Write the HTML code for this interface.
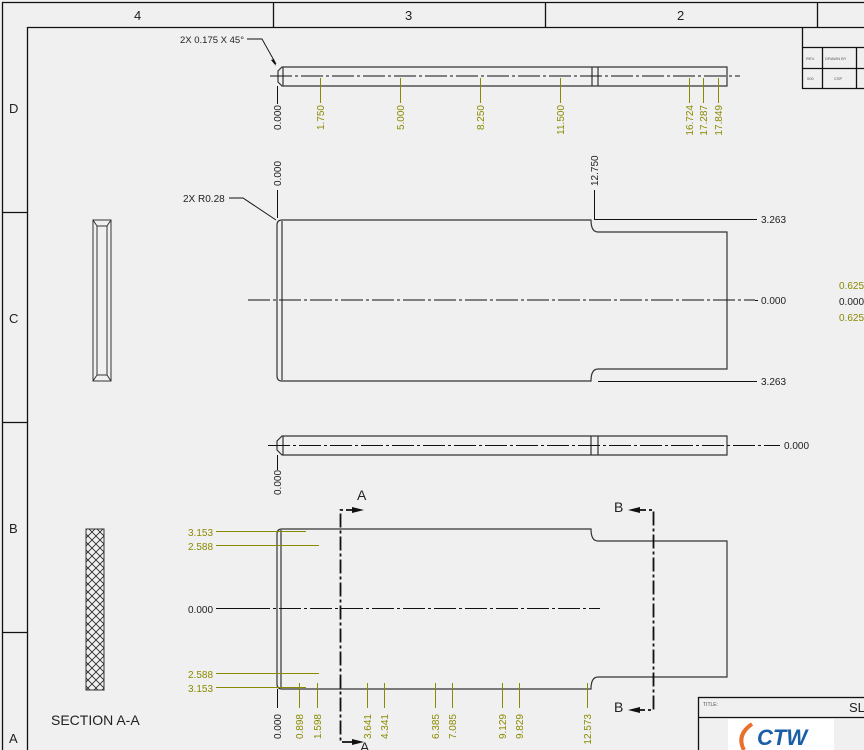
<!DOCTYPE html>
<html><head><meta charset="utf-8"><style>
html,body{margin:0;padding:0;background:#f0f0f0;}
svg{display:block;font-family:"Liberation Sans",sans-serif;}
</style></head><body>
<svg width="864" height="750" viewBox="0 0 864 750" xmlns="http://www.w3.org/2000/svg">
<defs>
<pattern id="h" width="8" height="8" patternUnits="userSpaceOnUse">
<path d="M0,0 L8,8 M8,0 L0,8" stroke="#222" stroke-width="0.8"/>
</pattern>
</defs>
<rect width="864" height="750" fill="#f0f0f0"/>
<g stroke="#111" stroke-width="1.3" fill="none">
<path d="M2.5,750 V2.5 H864"/>
<path d="M27.5,750 V27.5 H864"/>
<path d="M273.5,3 V27 M545.5,3 V27 M817.5,3 V27"/>
<path d="M3,212.5 H27 M3,422.5 H27 M3,632.5 H27"/>
<path d="M802.5,27 V88.5 H864 M802.5,47.5 H864 M802.5,68.5 H864 M822.5,47 V88 M856.5,47 V88"/>
</g>
<g font-size="13" fill="#222">
<text x="134" y="20">4</text><text x="405" y="20">3</text><text x="677" y="20">2</text>
<text x="9" y="113">D</text><text x="9" y="323">C</text><text x="9" y="533">B</text><text x="9" y="743">A</text>
</g>
<g font-size="4" fill="#555"><text x="806" y="60">REV.</text><text x="825" y="60">DRAWN BY</text><text x="807" y="80">000</text><text x="834" y="80">CSP</text></g>

<g stroke="#333" fill="none" stroke-width="1">
<rect x="93" y="220" width="18" height="161"/>
<rect x="97" y="226" width="10" height="149"/>
<path d="M93,220 L97,226 M111,220 L107,226 M93,381 L97,375 M111,381 L107,375"/>
</g>
<rect x="86" y="529" width="18" height="161" fill="url(#h)" stroke="#333"/>
<text x="51" y="725" font-size="14" fill="#222">SECTION A-A</text>

<g stroke="#333" fill="none" stroke-width="1.2">
<path d="M282,67 H727 V86 H282 L278,82 V71 Z"/>
<path d="M283,67 V86 M592,67 V86 M598,67 V86"/>
</g>
<path d="M270,76 H740" stroke="#111" stroke-dasharray="22,3,3,3" fill="none"/>
<path d="M277.5,86 V104" stroke="#111"/>
<g stroke="#8a8a00"><path d="M320.5,78 V103 M400.5,78 V103 M480.5,78 V103 M560.5,78 V103 M689.5,78 V103 M703.5,78 V103 M718.5,78 V103"/></g>
<path d="M247,39 H262 L276,64" stroke="#111" fill="none" stroke-width="0.9"/>
<path d="M276,66 L271,60 L274,59 Z" fill="#111"/>
<text x="180" y="43" font-size="9.5" fill="#222">2X 0.175 X 45°</text>
<g font-size="10" text-anchor="end">
<text transform="translate(281,105) rotate(-90)" fill="#222">0.000</text>
<text transform="translate(324,105) rotate(-90)" fill="#8a8a00">1.750</text>
<text transform="translate(404,105) rotate(-90)" fill="#8a8a00">5.000</text>
<text transform="translate(484,105) rotate(-90)" fill="#8a8a00">8.250</text>
<text transform="translate(564,105) rotate(-90)" fill="#8a8a00">11.500</text>
<text transform="translate(693,105) rotate(-90)" fill="#8a8a00">16.724</text>
<text transform="translate(707,105) rotate(-90)" fill="#8a8a00">17.287</text>
<text transform="translate(722,105) rotate(-90)" fill="#8a8a00">17.849</text>
</g>

<g stroke="#333" fill="none" stroke-width="1.2">
<path d="M282,220 H591 Q591,232 598,232 H727 V369 H598 Q591,369 591,381 H282 Q277,381 277,376 V225 Q277,220 282,220 Z"/>
<path d="M282,221 V380"/>
</g>
<path d="M248,300 H755" stroke="#111" stroke-dasharray="22,3,3,3"/>
<g stroke="#111" fill="none">
<path d="M755,300.5 H758 M594,219.5 H757 M598,381.5 H757"/>
<path d="M277.5,190 V218 M594.5,190 V219"/>
<path d="M229,198 H243 L276,220"/>
</g>
<g font-size="10" fill="#222">
<text x="761" y="223">3.263</text><text x="761" y="304">0.000</text><text x="761" y="385">3.263</text>
<text transform="translate(281,186) rotate(-90)">0.000</text>
<text transform="translate(598,186) rotate(-90)">12.750</text>
<text x="183" y="202">2X R0.28</text>
<text x="839" y="289" fill="#8a8a00">0.625</text><text x="839" y="305">0.000</text><text x="839" y="321" fill="#8a8a00">0.625</text>
</g>

<g stroke="#333" fill="none" stroke-width="1.2">
<path d="M282,436 H727 V455 H282 L277,450 V441 Z"/>
<path d="M283,436 V455 M591,436 V455 M598,436 V455"/>
</g>
<path d="M268,445.5 H780" stroke="#111" stroke-dasharray="22,3,3,3"/>
<path d="M277.5,455 V470" stroke="#111"/>
<g font-size="10" fill="#222">
<text x="784" y="449">0.000</text>
<text transform="translate(281,495) rotate(-90)">0.000</text>
</g>

<g stroke="#333" fill="none" stroke-width="1.2">
<path d="M282,529 H591 Q591,541 598,541 H727 V677 H598 Q591,677 591,689 H282 Q277,689 277,684 V534 Q277,529 282,529 Z"/>
<path d="M281,530 V688"/>
</g>
<path d="M248,608.5 H600" stroke="#111" stroke-dasharray="22,3,3,3"/>
<g stroke="#8a8a00">
<path d="M216,531.5 H306 M216,545.5 H319 M216,673.5 H319 M216,687.5 H306"/>
<path d="M299.5,683 V708 M317.5,683 V708 M367.5,683 V708 M384.5,683 V708 M435.5,683 V708 M452.5,683 V708 M502.5,683 V708 M519.5,683 V708 M587.5,683 V708"/>
</g>
<path d="M216,608.5 H250 M277.5,689 V708" stroke="#111"/>
<g stroke="#111" fill="none" stroke-width="1.8">
<path d="M360,510 H340.5 V742 H360" stroke-dasharray="14,3,3,3"/>
<path d="M632,510 H653.5 V710 H632" stroke-dasharray="14,3,3,3"/>
</g>
<g fill="#111"><path d="M364,510 L352,507 V513 Z"/><path d="M364,742 L352,739 V745 Z"/><path d="M628,510 L640,507 V513 Z"/><path d="M628,710 L640,707 V713 Z"/></g>
<g font-size="14" fill="#222"><text x="357" y="500">A</text><text x="360" y="752">A</text><text x="614" y="512">B</text><text x="614" y="712">B</text></g>
<g font-size="10" fill="#8a8a00">
<text x="188" y="536">3.153</text><text x="188" y="550">2.588</text>
<text x="188" y="678" >2.588</text><text x="188" y="692">3.153</text>
<text x="188" y="613" fill="#222">0.000</text>
</g>
<g font-size="10" fill="#8a8a00" text-anchor="end">
<text transform="translate(281,714) rotate(-90)" fill="#222">0.000</text>
<text transform="translate(303,714) rotate(-90)">0.898</text>
<text transform="translate(321,714) rotate(-90)">1.598</text>
<text transform="translate(371,714) rotate(-90)">3.641</text>
<text transform="translate(388,714) rotate(-90)">4.341</text>
<text transform="translate(439,714) rotate(-90)">6.385</text>
<text transform="translate(456,714) rotate(-90)">7.085</text>
<text transform="translate(506,714) rotate(-90)">9.129</text>
<text transform="translate(523,714) rotate(-90)">9.829</text>
<text transform="translate(591,714) rotate(-90)">12.573</text>
</g>

<rect x="698.5" y="697.5" width="170" height="60" fill="#f0f0f0" stroke="#111" stroke-width="1.3"/>
<path d="M698,717.5 H864" stroke="#111" stroke-width="1.3"/>
<text x="703" y="706" font-size="5" fill="#555">TITLE:</text>
<text x="849" y="712" font-size="13" fill="#222">SL</text>
<rect x="728" y="719" width="106" height="31" fill="#fff"/>
<path d="M752,724 Q736,735 744,750" stroke="#e8702a" stroke-width="4" fill="none"/>
<text x="757" y="745" font-size="22" font-weight="bold" font-style="italic" fill="#1a5ea8">CTW</text>
</svg>
</body></html>
